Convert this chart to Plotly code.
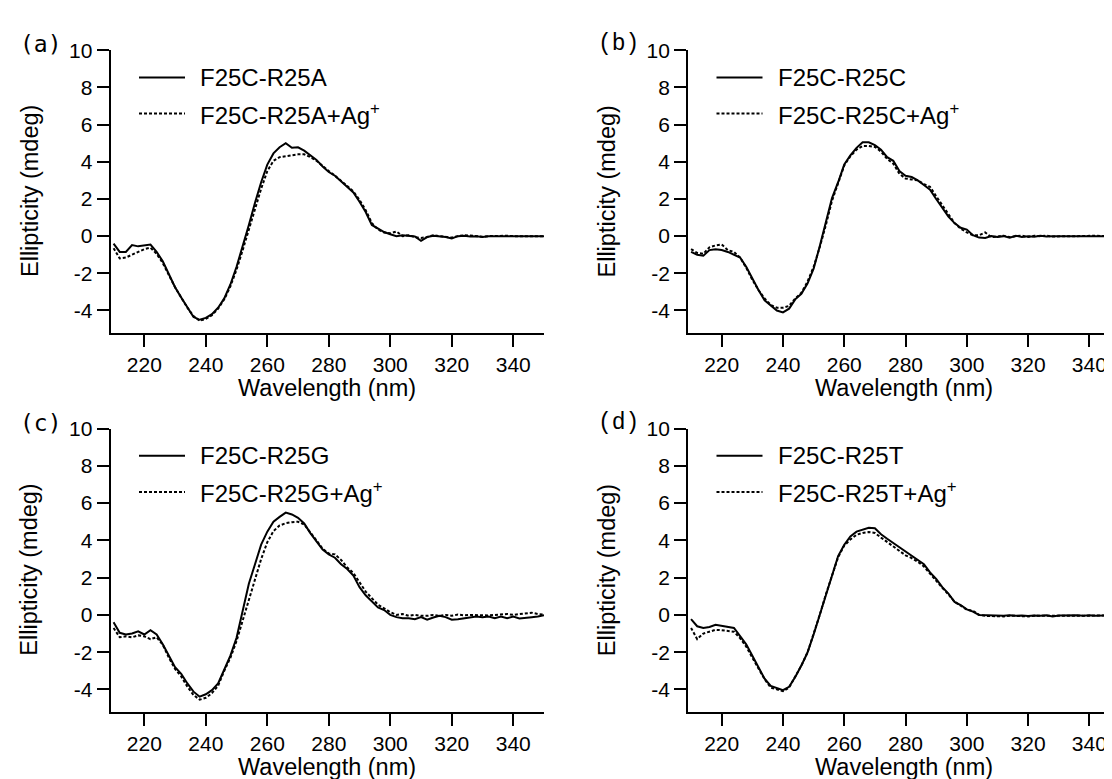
import plotly.graph_objects as go

# ---------------- data ----------------
wavelength = list(range(210, 351, 2))

a_solid = [-0.40, -0.85, -0.85, -0.48, -0.55, -0.52, -0.45, -0.85, -1.35, -2.05,
           -2.75, -3.30, -3.85, -4.35, -4.50, -4.40, -4.20, -3.85, -3.35, -2.60,
           -1.65, -0.55, 0.60, 1.80, 2.90, 3.85, 4.45, 4.78, 5.00, 4.75,
           4.78, 4.60, 4.35, 4.10, 3.75, 3.45, 3.25, 2.95, 2.65, 2.35,
           1.85, 1.30, 0.60, 0.42, 0.22, 0.10, 0.00, 0.05, 0.00, -0.02,
           -0.25, -0.05, 0.02, 0.00, -0.05, -0.12, 0.00, 0.02, -0.02, 0.00,
           -0.05, 0.00, 0.00, 0.02, 0.00, 0.00, 0.02, 0.00, 0.00, 0.02, 0.00]
a_ag = [-0.65, -1.20, -1.15, -1.00, -0.85, -0.70, -0.62, -0.95, -1.45, -2.10,
        -2.75, -3.30, -3.85, -4.30, -4.55, -4.45, -4.25, -3.90, -3.40, -2.70,
        -1.80, -0.75, 0.35, 1.45, 2.55, 3.50, 4.05, 4.25, 4.30, 4.35,
        4.40, 4.40, 4.25, 4.05, 3.75, 3.50, 3.25, 3.00, 2.70, 2.40,
        1.95, 1.40, 0.70, 0.35, 0.20, 0.15, 0.25, 0.00, 0.05, -0.05,
        -0.10, -0.05, 0.05, 0.00, -0.05, -0.08, 0.00, 0.05, 0.03, 0.00,
        -0.03, 0.00, 0.02, 0.00, 0.02, 0.00, 0.00, 0.02, 0.00, 0.00, 0.00]

b_solid = [-0.85, -1.00, -1.05, -0.75, -0.70, -0.75, -0.85, -1.02, -1.15, -1.65,
           -2.30, -2.90, -3.45, -3.75, -4.00, -4.10, -3.90, -3.40, -3.10, -2.55,
           -1.75, -0.55, 0.75, 2.05, 2.90, 3.85, 4.35, 4.75, 5.05, 5.05,
           4.90, 4.65, 4.25, 4.05, 3.50, 3.25, 3.18, 3.00, 2.75, 2.50,
           2.00, 1.50, 1.05, 0.70, 0.45, 0.35, 0.05, -0.08, -0.10, 0.00,
           -0.05, 0.00, -0.08, 0.02, -0.05, 0.00, -0.03, 0.02, -0.02, 0.00,
           0.00, 0.02, 0.00, -0.02, 0.00, 0.02, 0.00, 0.02, 0.00, 0.02, 0.00]
b_ag = [-0.70, -0.90, -0.95, -0.60, -0.50, -0.45, -0.75, -0.85, -1.15, -1.70,
        -2.35, -2.90, -3.35, -3.70, -3.85, -3.85, -3.75, -3.35, -3.05, -2.45,
        -1.65, -0.60, 0.60, 1.90, 2.85, 3.80, 4.30, 4.65, 4.85, 4.85,
        4.80, 4.55, 4.15, 3.90, 3.35, 3.10, 3.05, 3.00, 2.80, 2.65,
        2.15, 1.65, 1.15, 0.70, 0.40, 0.20, 0.05, 0.05, 0.20, -0.05,
        -0.02, 0.02, -0.05, 0.00, 0.03, -0.05, 0.02, 0.00, 0.02, -0.02,
        0.00, 0.02, 0.00, 0.00, 0.02, 0.00, 0.02, 0.00, 0.03, 0.00, 0.02]

c_solid = [-0.40, -0.96, -1.05, -1.00, -0.88, -1.05, -0.82, -1.05, -1.58, -2.19,
           -2.81, -3.16, -3.68, -4.12, -4.39, -4.26, -4.04, -3.68, -2.98, -2.19,
           -1.23, 0.26, 1.67, 2.72, 3.77, 4.47, 5.00, 5.26, 5.49, 5.39,
           5.21, 4.91, 4.39, 3.95, 3.51, 3.25, 3.07, 2.72, 2.46, 2.11,
           1.49, 1.05, 0.70, 0.40, 0.26, 0.00, -0.12, -0.18, -0.18, -0.23,
           -0.12, -0.26, -0.14, -0.05, -0.12, -0.26, -0.23, -0.18, -0.14, -0.09,
           -0.12, -0.09, -0.18, -0.09, -0.18, -0.09, -0.19, -0.14, -0.12, -0.09, -0.02]
c_ag = [-0.70, -1.20, -1.15, -1.20, -1.10, -1.15, -1.30, -1.20, -1.60, -2.30,
        -2.90, -3.30, -3.85, -4.30, -4.55, -4.45, -4.20, -3.80, -3.00, -2.30,
        -1.40, -0.30, 0.90, 2.00, 3.00, 3.90, 4.50, 4.80, 4.92, 4.98,
        5.00, 4.85, 4.45, 4.00, 3.55, 3.30, 3.25, 2.95, 2.55, 2.25,
        1.75, 1.25, 0.90, 0.55, 0.35, 0.15, 0.00, 0.05, -0.05, 0.00,
        -0.05, -0.05, 0.00, -0.05, 0.00, -0.05, 0.02, -0.02, 0.00, -0.02,
        0.00, -0.03, 0.00, 0.02, 0.05, 0.00, 0.05, 0.10, 0.12, 0.05, 0.02]

d_solid = [-0.23, -0.61, -0.70, -0.65, -0.53, -0.58, -0.61, -0.70, -1.14, -1.58,
           -2.19, -2.81, -3.42, -3.81, -3.91, -4.04, -3.86, -3.33, -2.72, -2.02,
           -1.05, 0.00, 1.14, 2.19, 3.16, 3.77, 4.21, 4.47, 4.56, 4.68,
           4.65, 4.33, 4.09, 3.86, 3.63, 3.42, 3.21, 2.98, 2.72, 2.28,
           1.93, 1.49, 1.14, 0.70, 0.53, 0.30, 0.18, 0.00, -0.02, -0.05,
           -0.03, -0.05, -0.02, -0.05, -0.03, -0.06, -0.03, -0.05, -0.02, -0.08,
           -0.03, -0.02, -0.05, -0.02, -0.04, -0.02, -0.05, -0.02, -0.03, -0.02, -0.02]
d_ag = [-0.70, -1.30, -1.00, -0.90, -0.80, -0.82, -0.85, -0.90, -1.25, -1.70,
        -2.30, -2.90, -3.45, -3.90, -4.00, -4.10, -3.90, -3.33, -2.72, -2.02,
        -1.05, 0.00, 1.10, 2.15, 3.10, 3.72, 4.05, 4.30, 4.40, 4.45,
        4.40, 4.15, 3.90, 3.65, 3.40, 3.20, 3.05, 2.85, 2.60, 2.20,
        1.85, 1.45, 1.10, 0.70, 0.50, 0.28, 0.22, 0.00, -0.05, -0.06,
        -0.05, -0.08, -0.04, -0.06, -0.05, -0.08, -0.05, -0.06, -0.04, -0.07,
        -0.05, -0.04, -0.06, -0.04, -0.05, -0.04, -0.06, -0.03, -0.05, -0.04, -0.04]

panel_labels = ["(a)", "(b)", "(c)", "(d)"]
sample_names = ["F25C-R25A", "F25C-R25C", "F25C-R25G", "F25C-R25T"]
solid_series = [a_solid, b_solid, c_solid, d_solid]
ag_series = [a_ag, b_ag, c_ag, d_ag]

x_ticks = [220, 240, 260, 280, 300, 320, 340]
y_ticks = [-4, -2, 0, 2, 4, 6, 8, 10]
y_ticktext = [str(v) for v in y_ticks]  # plain hyphen like the reference
x_title = "Wavelength (nm)"
y_title = "Ellipticity (mdeg)"

# ---------------- layout geometry (pixels) ----------------
W, H = 1112, 779
col_x = [(102.5, 536.0), (680.0, 1112.0)]
row_y = [(30.7, 317.7), (415.0, 702.6)]

SANS = "Arial, Liberation Sans, Helvetica, sans-serif"
LINE_W = 2.0
DOT = "3px,2px"

fig = go.Figure()
axes = {}
annotations = []
shapes = []

for i in range(4):
    r, c = divmod(i, 2)
    x0, x1 = col_x[c]
    yt, yb = row_y[r]
    n = i + 1
    xa = "x" if n == 1 else f"x{n}"
    ya = "y" if n == 1 else f"y{n}"
    name = sample_names[i]

    fig.add_trace(go.Scatter(x=wavelength, y=solid_series[i], mode="lines", name=name,
                             line=dict(color="black", width=LINE_W),
                             xaxis=xa, yaxis=ya, showlegend=False))
    fig.add_trace(go.Scatter(x=wavelength, y=ag_series[i], mode="lines",
                             name=name + "+Ag<sup>+</sup>",
                             line=dict(color="black", width=LINE_W, dash=DOT),
                             xaxis=xa, yaxis=ya, showlegend=False))

    common = dict(showline=True, linecolor="black", linewidth=1.8, mirror=False,
                  ticks="outside", ticklen=12, tickwidth=1.6, tickcolor="black",
                  showgrid=False, zeroline=False,
                  tickfont=dict(family=SANS, size=21, color="black"))
    axes["xaxis" if n == 1 else f"xaxis{n}"] = dict(
        common, domain=[x0 / W, x1 / W], range=[209, 350],
        tickvals=x_ticks, anchor=ya)
    axes["yaxis" if n == 1 else f"yaxis{n}"] = dict(
        common, domain=[1 - yb / H, 1 - yt / H], range=[-5.2, 10],
        tickvals=y_ticks, ticktext=y_ticktext, anchor=xa)

    # in-plot key (legend) -- sample line + label, two rows
    for row, (txt, dash) in enumerate([(name, "solid"),
                                       (name + "+Ag<sup>+</sup>", DOT)]):
        yy = 1 - (yt + 27.6 + row * 36.7) / H
        shapes.append(dict(type="line", xref="paper", yref="paper",
                           x0=(x0 + 28.5) / W, x1=(x0 + 74.5) / W, y0=yy, y1=yy,
                           line=dict(color="black", width=LINE_W, dash=dash)))
        annotations.append(dict(text=txt, xref="paper", yref="paper",
                                x=(x0 + 87.5) / W, y=yy, showarrow=False,
                                xanchor="left", yanchor="middle",
                                font=dict(family=SANS, size=24, color="black")))

    # axis titles
    annotations.append(dict(text=x_title, xref="paper", yref="paper",
                            x=(x0 + x1) / 2 / W, y=1 - (yb + 56) / H,
                            showarrow=False, xanchor="center", yanchor="middle",
                            font=dict(family=SANS, size=23.5, color="black")))
    annotations.append(dict(text=y_title, xref="paper", yref="paper",
                            x=(x0 - 81) / W, y=1 - (yt + yb) / 2 / H,
                            showarrow=False, xanchor="center", yanchor="middle",
                            textangle=-90,
                            font=dict(family=SANS, size=23.5, color="black")))
    # panel label
    mono = "DejaVu Sans Mono" if c == 0 else "Liberation Mono, Courier New, monospace"
    annotations.append(dict(text=panel_labels[i], xref="paper", yref="paper",
                            x=(x0 - 70) / W, y=1 - (yt - 6) / H,
                            showarrow=False, xanchor="center", yanchor="middle",
                            font=dict(family=mono, size=23, color="black")))

fig.update_layout(
    width=W, height=H,
    margin=dict(l=0, r=0, t=0, b=0),
    paper_bgcolor="white", plot_bgcolor="white",
    showlegend=False,
    annotations=annotations,
    shapes=shapes,
    **axes,
)

fig.write_html("out.html")
